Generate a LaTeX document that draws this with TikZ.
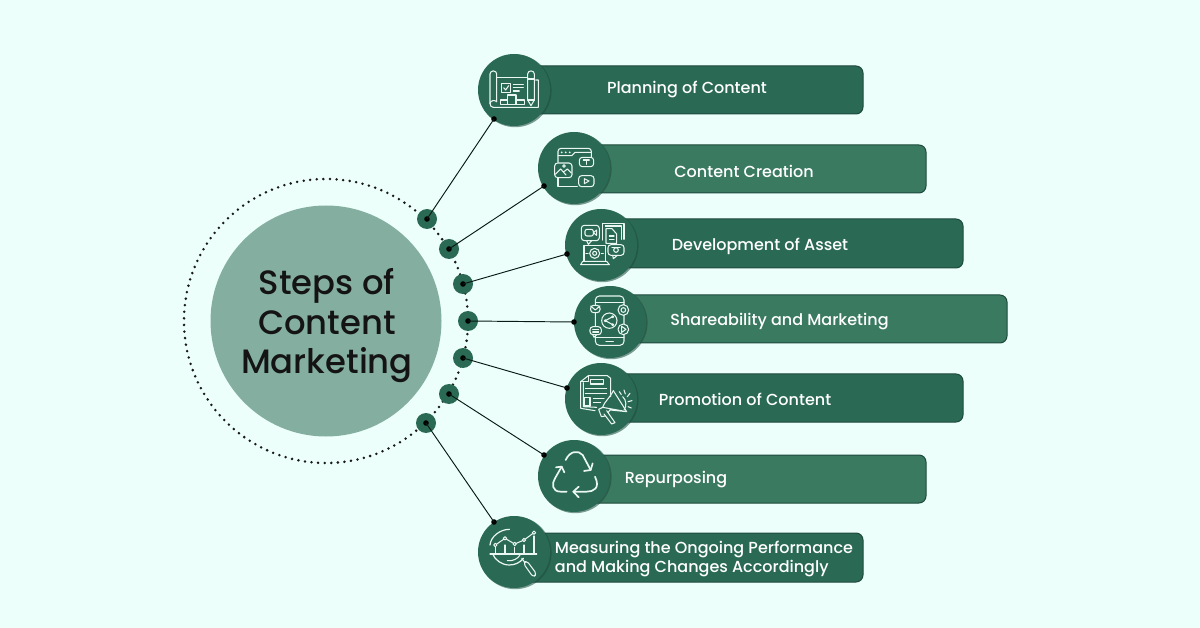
\documentclass[tikz,border=0pt]{standalone}
\usepackage{fontspec}
\setmainfont{Poppins}
\newfontfamily\pmed{Poppins Medium}
\definecolor{bgc}{HTML}{EDFFFA}
\definecolor{darkg}{HTML}{2A6A55}
\definecolor{lightg}{HTML}{3A7A60}
\definecolor{edgeg}{HTML}{1F4A3D}
\definecolor{bigc}{HTML}{84AFA0}
\definecolor{iconw}{HTML}{EAF6F1}
\tikzset{
  x=1pt,y=-1pt,
  barbox/.style={draw=edgeg,line width=1pt,rounded corners=7pt},
  badge/.style={circle,fill=darkg,minimum size=72pt,inner sep=0pt,draw=none},
  badgeshadow/.style={fill=edgeg,opacity=.55},
  knob/.style={circle,fill=darkg,minimum size=20pt,inner sep=0pt},
  dotk/.style={circle,fill=black,minimum size=5.6pt,inner sep=0pt},
  link/.style={draw=black!75!darkg,line width=.95pt},
  bartext/.style={text=white,font=\pmed\fontsize{16}{19}\selectfont,align=left,inner sep=0pt},
  title/.style={text=black!92,font=\pmed\fontsize{33.8}{39.5}\selectfont,align=center,inner sep=0pt},
  ico/.style={draw=iconw,line width=1.05pt,line join=round,line cap=round,fill=none},
  zoomA/.style={shift={(470,45)},x=0.33333pt,y=-0.33333pt,ico},
  zoomB/.style={shift={(400,200)},x=0.33333pt,y=-0.33333pt,ico},
  zoomC/.style={shift={(470,430)},x=0.33333pt,y=-0.33333pt,ico},
}
\begin{document}
\begin{tikzpicture}
\useasboundingbox (0,0) rectangle (1200,628);
\fill[bgc] (0,0) rectangle (1200,628);

% centre
\node[circle,fill=bigc,minimum size=231pt,inner sep=0pt] (hub) at (326,321) {};
\draw[black!90,line width=2.8pt,line cap=round,dash pattern=on 0pt off 6.6pt] (326,321) circle[radius=142];
\node[title] (ttl) at (327,326) {Steps of\\Content\\Marketing};

% bars
\draw[barbox,fill=darkg]  (514,66)  rectangle (863,114);
\draw[barbox,fill=lightg] (574,145) rectangle (926,193);
\draw[barbox,fill=darkg]  (601,219) rectangle (963,268);
\draw[barbox,fill=lightg] (610,295) rectangle (1007,343);
\draw[barbox,fill=darkg]  (601,374) rectangle (963,422);
\draw[barbox,fill=lightg] (574,455) rectangle (926,503);
\draw[barbox,fill=darkg]  (514,533) rectangle (863,582);

% badges
\foreach \n/\x/\y in {a/514/90,b/574/168,c/601/245,d/610/322,e/601/399,f/574/476,g/514/552}{
  \fill[badgeshadow] (\x+1.2,\y+.8) circle[radius=36.4];
  \node[badge] (badge\n) at (\x,\y) {};
}

% knobs
\node[knob] (ka) at (427,219) {};
\node[knob] (kb) at (449,249) {};
\node[knob] (kc) at (463,284) {};
\node[knob] (kd) at (468,321) {};
\node[knob] (ke) at (463,358) {};
\node[knob] (kf) at (449,394) {};
\node[knob] (kg) at (426,423) {};

% dots
\foreach \n/\x/\y in {ka/427/219,kb/449/249,kc/463/284,kd/468/321,ke/463/358,kf/449/394,kg/426/423}{
  \node[dotk] (d\n) at (\x,\y) {};
}
\node[dotk] (ea) at (494,119) {};
\node[dotk] (eb) at (544,186) {};
\node[dotk] (ec) at (567,254) {};
\node[dotk] (ed) at (574,322) {};
\node[dotk] (ee) at (567,388) {};
\node[dotk] (ef) at (544,455) {};
\node[dotk] (eg) at (494,522) {};
\foreach \n in {a,b,c,d,e,f,g}{
  \draw[link] (dk\n.center) -- (e\n.center);
}

% labels
\node[bartext] (la) at (687,89.5) {Planning of Content};
\node[bartext] (lb) at (744,171) {Content Creation};
\node[bartext] (lc) at (760,246) {Development of Asset};
\node[bartext] (ld) at (779.5,322) {Shareability and Marketing};
\node[bartext] (le) at (745,399) {Promotion of Content};
\node[bartext] (lf) at (676,480) {Repurposing};
\node[bartext] (lg) at (704,559) {Measuring the Ongoing Performance\\and Making Changes Accordingly};

% icon 1: blueprint
\begin{scope}[zoomA]
\draw (80,98) -- (172,98);
\draw[rounded corners=3pt] (60,175) -- (60,78) -- (80,78) -- (80,170);
\draw (60,175) .. controls (60,190) and (75,187) .. (80,187) -- (205,187) -- (205,105) -- (197,105);
\draw (60,175) .. controls (62,165) and (75,165) .. (80,170);
\draw (95,115) rectangle (122,142);
\draw (101,128) -- (107,135) -- (116,122);
\draw (130,118) -- (160,118) (130,128) -- (160,128) (130,138) -- (148,138);
\draw (92,178) -- (92,165) -- (112,165) -- (112,150) -- (138,150) -- (138,165) -- (163,165) -- (163,178) -- cycle;
\draw (112,165) -- (112,178) (138,165) -- (138,178);
\draw[rounded corners=3pt] (173,165) -- (173,78) -- (193,78) -- (193,165);
\draw (173,165) -- (183,182) -- (193,165);
\draw (173,102) -- (193,102) (173,165) -- (193,165);
\end{scope}

% icon 2: media window
\begin{scope}[zoomA]
\draw[rounded corners=3pt] (264,352) -- (264,310) -- (364,310) -- (364,335);
\draw (264,332) -- (305,332) -- (315,322) -- (364,322);
\draw (264,398) -- (264,425) -- (322,425);
\fill[iconw,draw=none] (275,322) circle[radius=3] (287,322) circle[radius=3] (299,322) circle[radius=3];
\draw[rounded corners=3pt] (254,354) rectangle (306,398);
\draw (256,388) -- (272,372) -- (288,390) (282,380) -- (292,372) -- (304,384);
\draw (282,363) circle[radius=4];
\draw[rounded corners=3pt] (328,337) rectangle (371,365);
\draw (340,345) -- (358,345) (349,345) -- (349,358);
\draw[rounded corners=3pt] (326,392) rectangle (372,425);
\draw (343,401) -- (357,408) -- (343,416) -- cycle;
\end{scope}

% icon 3: devices
\begin{scope}[zoomB]
\draw[rounded corners=3pt] (544,76) rectangle (598,122);
\draw (560,122) -- (565,133) -- (575,122);
\draw[rounded corners=2pt] (555,88) rectangle (580,108);
\draw (580,98) -- (590,90) -- (590,106) -- cycle;
\draw (608,70) -- (672,70) -- (672,118);
\draw (616,78) -- (664,78) -- (664,118);
\draw (608,70) -- (608,120);
\draw (618,86) -- (636,86) -- (650,102) -- (650,130) -- (618,130) -- cycle;
\draw (628,108) -- (642,108) (628,118) -- (642,118);
\draw (552,184) -- (552,136) -- (616,136) -- (616,184);
\draw (542,194) -- (548,184) -- (620,184) -- (628,194) -- cycle;
\draw (584,160) circle[radius=15];
\draw (584,160) circle[radius=6];
\draw (564,160) -- (558,160) (604,160) -- (610,160);
\draw[fill=darkg,rounded corners=3pt] (624,134) rectangle (672,166);
\draw (638,166) -- (640,176) -- (652,166);
\draw (648,150) circle[radius=7];
\draw (636,142) -- (660,142);
\end{scope}

% icon 4: phone
\begin{scope}[zoomB]
\draw[rounded corners=4pt] (586,288) rectangle (672,436);
\draw (586,308) -- (672,308) (586,412) -- (672,412);
\draw (618,425) -- (640,425);
\draw[fill=darkg] (628,362) circle[radius=23];
\draw (616,362) -- (638,350) (616,362) -- (638,374);
\draw (616,362) circle[radius=3] (638,350) circle[radius=3] (638,374) circle[radius=3];
\draw[fill=darkg,rounded corners=3pt] (572,316) rectangle (600,338);
\draw (572,318) -- (586,330) -- (600,318);
\draw[fill=darkg] (670,330) circle[radius=16];
\draw (670,330) circle[radius=7];
\draw[fill=darkg] (670,388) circle[radius=16];
\draw (665,379) -- (678,388) -- (665,397) -- cycle;
\draw[fill=darkg,rounded corners=3pt] (570,380) rectangle (604,404);
\draw (578,404) -- (582,412) -- (590,404);
\draw (578,388) -- (596,388) (578,396) -- (596,396);
\end{scope}

% icon 5: document + megaphone
\begin{scope}[zoomB]
\draw (542,545) -- (565,527) -- (622,527) -- (632,535) -- (632,590);
\draw (542,545) -- (565,545) -- (565,527);
\draw (542,545) -- (542,625) -- (585,632);
\draw (550,548) -- (550,620) -- (590,622);
\draw (572,538) rectangle (610,552);
\draw (556,565) -- (620,565) (556,580) -- (620,580);
\draw (554,592) rectangle (570,618);
\draw (580,595) -- (612,595) (580,608) -- (602,608);
\draw[fill=darkg] (640,572) -- (680,635) -- (608,622) -- (596,628) -- (604,650) -- (616,648) -- (630,630) -- (680,635);
\draw[fill=darkg] (620,632) -- (645,668) -- (635,672) -- (612,642);
\draw[fill=darkg] (640,572) .. controls (632,590) and (610,610) .. (608,622);
\draw (668,590) .. controls (680,600) and (680,620) .. (672,630);
\draw (658,575) -- (664,584) (672,570) -- (676,582) (690,580) -- (682,590) (696,602) -- (684,605) (694,624) -- (684,620);
\end{scope}

% icon 6: recycle
\begin{scope}[zoomC]
\draw[line width=1.7pt] (287,90) .. controls (300,62) and (325,60) .. (338,75) -- (362,120);
\draw[line width=1.7pt] (342,123) -- (362,120) -- (368,100);
\draw[line width=1.7pt] (290,185) -- (272,185) .. controls (245,185) and (245,160) .. (255,145) -- (275,110);
\draw[line width=1.7pt] (258,112) -- (275,110) -- (283,127);
\draw[line width=1.7pt] (375,140) .. controls (392,175) and (370,185) .. (350,185) -- (310,185);
\draw[line width=1.7pt] (326,170) -- (310,185) -- (326,202);
\end{scope}

% icon 7: chart + magnifier
\begin{scope}[zoomC]
\draw[line width=1.2pt] (60,372) -- (200,372);
\draw[line width=1.2pt] (60,345) .. controls (62,320) and (90,298) .. (118,298);
\draw[line width=1.2pt] (68,372) .. controls (75,390) and (95,405) .. (118,405) .. controls (135,405) and (150,398) .. (160,385);
\draw (112,392) .. controls (128,395) and (145,385) .. (150,375);
\draw[rounded corners=3pt] (160,400) -- (190,442) -- (200,432) -- (170,392) -- cycle;
\draw (155,385) -- (165,398);
\draw (76,345) -- (105,325) -- (134,342) -- (162,330) -- (192,308);
\foreach \p in {(76,345),(105,325),(134,342),(162,330),(192,308)}{\draw[fill=darkg] \p circle[radius=5];}
\draw (76,352) -- (76,370) (105,345) -- (105,370) (134,352) -- (134,370) (162,345) -- (162,370) (192,318) -- (192,370);
\end{scope}
\end{tikzpicture}
\end{document}
